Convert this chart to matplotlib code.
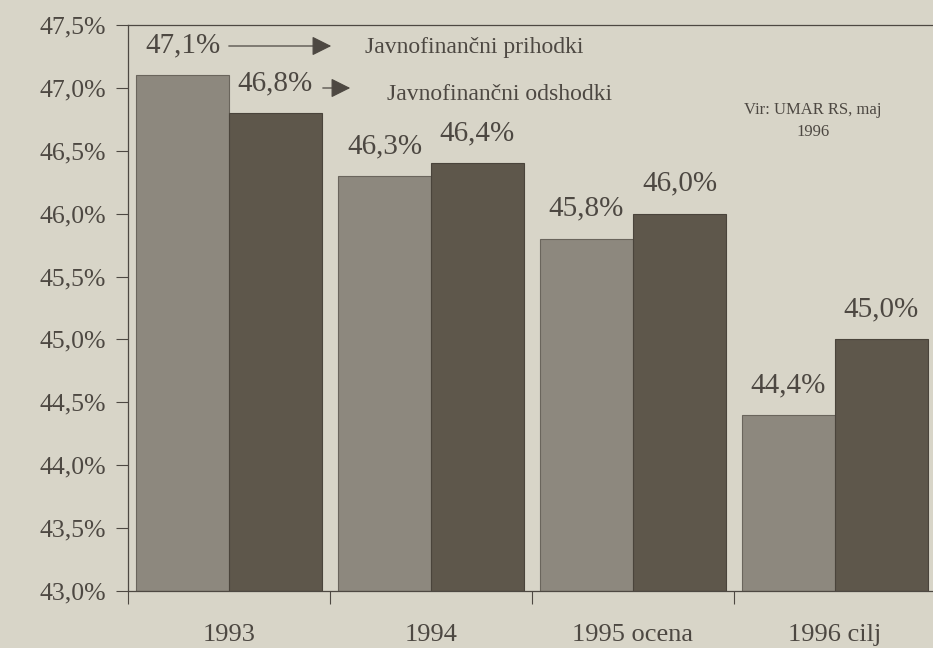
import matplotlib
matplotlib.use("Agg")
import matplotlib.pyplot as plt
import numpy as np

plt.rcParams["font.family"] = ["Liberation Serif", "DejaVu Serif"]

# data
categories = ["1993", "1994", "1995 ocena", "1996 cilj"]
prihodki = [47.1, 46.3, 45.8, 44.4]
odhodki = [46.8, 46.4, 46.0, 45.0]
prihodki_labels = ["47,1%", "46,3%", "45,8%", "44,4%"]
odhodki_labels = ["46,8%", "46,4%", "46,0%", "45,0%"]
yticks = [43.0, 43.5, 44.0, 44.5, 45.0, 45.5, 46.0, 46.5, 47.0, 47.5]
ytick_labels = ["43,0%", "43,5%", "44,0%", "44,5%", "45,0%",
                "45,5%", "46,0%", "46,5%", "47,0%", "47,5%"]

paper = "#d8d5c8"
light = "#8d887e"
dark = "#5e574b"
ink = "#4d4842"

fig = plt.figure(figsize=(9.33, 6.48), dpi=100, facecolor=paper)
ax = fig.add_axes([128 / 933, 57 / 648, 1 - 128 / 933, 566 / 648])
ax.set_facecolor(paper)

x = np.arange(len(categories))
w = 0.46
ax.bar(x - w, [v - 43 for v in prihodki], w, bottom=43, align="edge",
       color=light, edgecolor="#6a655c", linewidth=0.8)
ax.bar(x, [v - 43 for v in odhodki], w, bottom=43, align="edge",
       color=dark, edgecolor="#4a443b", linewidth=0.8)

for i in range(len(categories)):
    ax.annotate(prihodki_labels[i], (x[i] - w / 2, prihodki[i]),
                xytext=(0, 17), textcoords="offset pixels",
                ha="center", va="bottom", fontsize=21, color=ink)
    ax.annotate(odhodki_labels[i], (x[i] + w / 2, odhodki[i]),
                xytext=(0, 17), textcoords="offset pixels",
                ha="center", va="bottom", fontsize=21, color=ink)

ax.set_xlim(-0.5, -0.5 + 805 / 202)
ax.set_ylim(43.0, 47.5)
ax.set_yticks(yticks)
ax.set_yticklabels(ytick_labels, fontsize=18.5, color=ink)
ax.set_xticks(x)
ax.set_xticklabels(categories, fontsize=19, color=ink)
ax.set_xticks(x - 0.5, minor=True)
ax.tick_params(axis="x", which="major", length=0, pad=24)
ax.tick_params(axis="x", which="minor", length=9, width=0.8, color=ink)
ax.tick_params(axis="y", length=9, width=0.8, color=ink, pad=7)

for side in ["left", "bottom", "top"]:
    ax.spines[side].set_color(ink)
    ax.spines[side].set_linewidth(0.9)
ax.spines["right"].set_visible(False)

# legend arrows pointing from the first pair of labels
arrow = dict(arrowstyle="-|>", color=ink, lw=0.9, mutation_scale=30)
ax.annotate("", xy=(334 / 933, 602 / 648), xytext=(226 / 933, 602 / 648),
            xycoords="figure fraction", textcoords="figure fraction",
            arrowprops=arrow)
ax.annotate("", xy=(353 / 933, 560 / 648), xytext=(320 / 933, 560 / 648),
            xycoords="figure fraction", textcoords="figure fraction",
            arrowprops=arrow)
fig.text(365 / 933, 601 / 648, "Javnofinančni prihodki", fontsize=17,
         color=ink, va="center")
fig.text(387 / 933, 553 / 648, "Javnofinančni odshodki", fontsize=17,
         color=ink, va="center")
fig.text(813 / 933, 527 / 648, "Vir: UMAR RS, maj\n1996", fontsize=12,
         color=ink, ha="center", va="center", linespacing=1.5)

fig.savefig("out.png", dpi=100, facecolor=paper)
